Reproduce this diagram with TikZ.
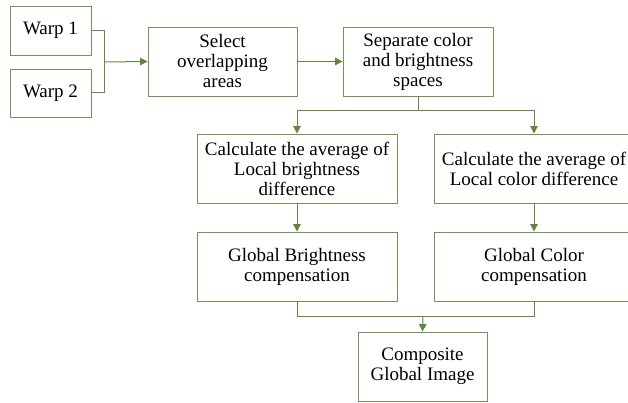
\documentclass[tikz,border=0pt]{standalone}
\usepackage{fontspec}
\setmainfont{Liberation Serif}
\usetikzlibrary{arrows.meta}
\definecolor{gline}{RGB}{98,133,64}
\definecolor{gbox}{RGB}{118,146,86}
\begin{document}
\begin{tikzpicture}[x=1pt,y=-1pt,
  box/.style={draw=gbox,line width=0.9pt,align=center,inner sep=0pt,font=\fontsize{19}{20}\selectfont},
  conn/.style={draw=gline,line width=1pt},
  arr/.style={conn,-{Triangle[width=7.5pt,length=7.5pt]}}]
\clip (0,0) rectangle (628,403);
\useasboundingbox (0,0) rectangle (628,403);
\node[box,minimum width=81pt,minimum height=49pt] (w1) at (50.5,30.5) {Warp 1};
\node[box,minimum width=81pt,minimum height=48pt] (w2) at (50.5,93) {Warp 2};
\node[box,minimum width=149pt,minimum height=69pt] (sel) at (222.5,61.5) {Select\\overlapping\\areas};
\node[box,minimum width=150pt,minimum height=69pt] (sep) at (418,61.5) {Separate color\\and brightness\\spaces};
\node[box,minimum width=200pt,minimum height=69pt] (cb) at (297,168.5) {Calculate the average of\\Local brightness\\difference};
\node[box,minimum width=200pt,minimum height=69pt] (cc) at (534,168.5) {Calculate the average of\\Local color difference};
\node[box,minimum width=200pt,minimum height=69pt] (gb) at (297,266.5) {Global Brightness\\compensation};
\node[box,minimum width=200pt,minimum height=69pt] (gc) at (534,266.5) {Global Color\\compensation};
\node[box,minimum width=129pt,minimum height=69pt] (comp) at (422.5,366.5) {Composite\\Global Image};
\coordinate (j1) at (104,62);
\coordinate (j2) at (418,111);
\coordinate (j3) at (423,316);
\draw[conn] (w1.east) -| (j1);
\draw[conn] (w2.east) -| (j1);
\draw[arr] (j1) -- (sel.west);
\draw[arr] (sel.east) -- (sep.west);
\draw[conn] (sep.south) -- (j2);
\draw[arr] (j2) -| (cb.north);
\draw[arr] (j2) -| (cc.north);
\draw[arr] (cb.south) -- (gb.north);
\draw[arr] (cc.south) -- (gc.north);
\draw[conn] (gb.south) |- (j3);
\draw[conn] (gc.south) |- (j3);
\draw[arr] (j3) -- (comp.north);
\end{tikzpicture}
\end{document}
